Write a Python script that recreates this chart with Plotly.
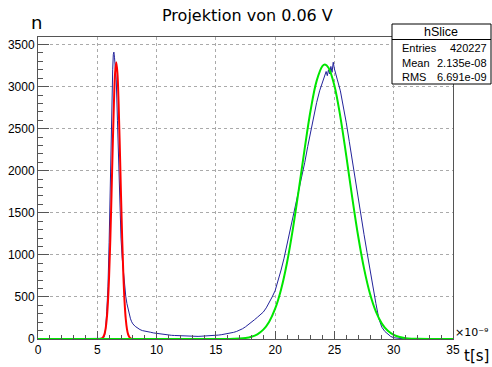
import plotly.graph_objects as go

# ---- data ----
blue_x = [0, 5.4, 5.5, 5.6, 5.7, 5.8, 5.9, 6.0, 6.1, 6.2, 6.3, 6.35, 6.4, 6.45, 6.5, 6.6, 6.7, 6.8, 6.9,
          7.0, 7.1, 7.2, 7.3, 7.4, 7.5, 7.6, 7.7, 7.8, 7.9, 8.0, 8.2, 8.4, 8.6, 8.8, 9.0, 9.25, 9.5, 9.75,
          10, 10.25, 10.5, 10.75, 11, 11.25, 11.5, 11.75, 12, 12.25, 12.5, 12.75, 13, 13.25, 13.5, 13.75,
          14, 14.25, 14.5, 14.75, 15, 15.25, 15.5, 15.75, 16, 16.25, 16.5, 16.75, 17, 17.25, 17.5, 17.75,
          18, 18.25, 18.5, 18.75, 19, 19.25, 19.5, 19.75, 20, 20.25, 20.5, 20.75, 21, 21.25, 21.5, 21.75,
          22, 22.25, 22.5, 22.75, 23, 23.25, 23.5, 23.75, 24, 24.15, 24.3, 24.4, 24.5, 24.6, 24.7, 24.8,
          24.9, 25.0, 25.1, 25.25, 25.5, 25.75, 26, 26.25, 26.5, 26.75, 27, 27.25, 27.5, 27.75, 28, 28.25,
          28.5, 28.75, 29, 29.25, 29.5, 29.75, 30, 30.5, 31, 35]
blue_y = [0, 0, 8, 30, 120, 330, 620, 1150, 1950, 2650, 3200, 3380, 3410, 3350, 3250, 3080, 2600, 2050, 1550,
          1200, 960, 780, 630, 510, 420, 350, 290, 240, 205, 180, 150, 128, 112, 100, 92, 85, 80, 72,
          66, 62, 57, 52, 48, 44, 42, 40, 37, 35, 33, 32, 31, 30, 31, 33,
          34, 36, 38, 40, 43, 47, 52, 57, 63, 70, 79, 90, 104, 122, 145, 170,
          200, 228, 258, 285, 320, 370, 430, 500, 575, 690, 820, 960, 1120, 1270, 1420, 1580,
          1760, 1930, 2100, 2290, 2470, 2640, 2810, 2950, 3060, 3120, 3180, 3130, 3200, 3150, 3240, 3170,
          3290, 3210, 3150, 3080, 2950, 2770, 2570, 2350, 2120, 1880, 1650, 1440, 1240, 1030, 820, 600,
          420, 240, 140, 90, 55, 30, 15, 5, 0, 0]

red_x = [5.0, 5.2, 5.4, 5.5, 5.6, 5.7, 5.8, 5.9, 6.0, 6.1, 6.2, 6.3, 6.4, 6.5, 6.6, 6.7, 6.8, 6.9, 7.0,
         7.1, 7.2, 7.3, 7.4, 7.5, 7.6, 7.7, 7.8, 7.9, 8.0]
red_y = [0, 1, 9, 24, 55, 121, 241, 445, 757, 1186, 1712, 2279, 2794, 3158, 3290, 3158, 2794, 2279, 1712,
         1186, 757, 445, 241, 121, 55, 24, 9, 3, 1]

green_x = [0, 14, 15, 16, 16.5, 17, 17.5, 18, 18.5, 19, 19.5, 20, 20.5, 21, 21.5, 22, 22.5, 23, 23.5,
           24, 24.2, 24.5, 25, 25.5, 26, 26.5, 27, 27.5, 28, 28.5, 29, 29.5, 30, 30.5, 31, 31.5, 32, 33, 35]
green_y = [0, 0, 0, 1, 2, 5, 12, 27, 56, 111, 206, 360, 589, 907, 1312, 1781, 2273, 2725, 3068,
           3246, 3262, 3225, 3011, 2641, 2176, 1684, 1224, 836, 537, 324, 183, 97, 49, 23, 10, 4, 2, 0, 0]

x_ticks = [0, 5, 10, 15, 20, 25, 30, 35]
y_ticks = [0, 500, 1000, 1500, 2000, 2500, 3000, 3500]

stats_labels = ["Entries", "Mean", "RMS"]
stats_values = ["420227", "2.135e-08", "6.691e-09"]

# ---- figure ----
W, H = 492, 367
L, R, T, B = 38, 39, 37, 28
pw, ph = W - L - R, H - T - B

def px(x):
    return (x - L) / pw

def py(y):
    return (H - B - y) / ph

fig = go.Figure()
fig.add_trace(go.Scatter(x=blue_x, y=blue_y, mode="lines",
                         line=dict(color="#23239b", width=1), hoverinfo="skip"))
fig.add_trace(go.Scatter(x=red_x, y=red_y, mode="lines",
                         line=dict(color="#ff0000", width=2, shape="spline"), hoverinfo="skip"))
fig.add_trace(go.Scatter(x=green_x, y=green_y, mode="lines",
                         line=dict(color="#00e600", width=2, shape="spline"), hoverinfo="skip"))

tickfont = dict(family="Liberation Sans", size=12, color="black")
fig.update_xaxes(range=[0, 35], tickvals=x_ticks, ticks="inside", ticklen=8, tickcolor="#555",
                 showline=True, linecolor="#555", linewidth=1, mirror=True, automargin=False,
                 showgrid=True, gridcolor="#aaa", griddash="dot", gridwidth=1,
                 zeroline=False, tickfont=tickfont,
                 minor=dict(dtick=1, ticks="inside", ticklen=4, tickcolor="#555", showgrid=False))
fig.update_yaxes(range=[0, 3590], tickvals=y_ticks, ticks="inside", ticklen=11, tickcolor="#555",
                 showline=True, linecolor="#555", linewidth=1, mirror=True, automargin=False,
                 showgrid=True, gridcolor="#aaa", griddash="dot", gridwidth=1,
                 zeroline=False, tickfont=tickfont,
                 minor=dict(dtick=100, ticks="inside", ticklen=5, tickcolor="#555", showgrid=False))

annotations = [
    dict(text="Projektion von 0.06 V", x=px(248), y=py(15), font=dict(family="DejaVu Sans", size=16)),
    dict(text="n", x=px(36), y=py(23), font=dict(family="DejaVu Sans", size=18)),
    dict(text="t[s]", x=px(491), y=py(356), xanchor="right", font=dict(family="DejaVu Sans", size=15)),
    dict(text="×10⁻⁹", x=px(453), y=py(332), xanchor="left",
         font=dict(family="DejaVu Sans", size=11)),
    dict(text="hSlice", x=px(441), y=py(32), font=dict(family="Liberation Sans", size=12.5)),
]
for i, (lab, val) in enumerate(zip(stats_labels, stats_values)):
    yy = py(48 + 14.5 * i)
    annotations.append(dict(text=lab, x=px(400), y=yy, xanchor="left",
                            font=dict(family="Liberation Sans", size=11)))
    annotations.append(dict(text=val, x=px(489), y=yy, xanchor="right",
                            font=dict(family="Liberation Sans", size=11)))
for a in annotations:
    a.update(xref="paper", yref="paper", showarrow=False)
    a.setdefault("xanchor", "center")
    a.setdefault("yanchor", "middle")
    a["font"].setdefault("color", "black")

shapes = [
    dict(type="rect", xref="paper", yref="paper", x0=px(392), x1=px(491), y0=py(84), y1=py(24),
         line=dict(color="black", width=1), fillcolor="white", layer="above"),
    dict(type="line", xref="paper", yref="paper", x0=px(392), x1=px(491), y0=py(39.5), y1=py(39.5),
         line=dict(color="black", width=1), layer="above"),
]

fig.update_layout(width=W, height=H, margin=dict(l=L, r=R, t=T, b=B),
                  paper_bgcolor="white", plot_bgcolor="white", showlegend=False,
                  annotations=annotations, shapes=shapes)

fig.write_html("out.html")
